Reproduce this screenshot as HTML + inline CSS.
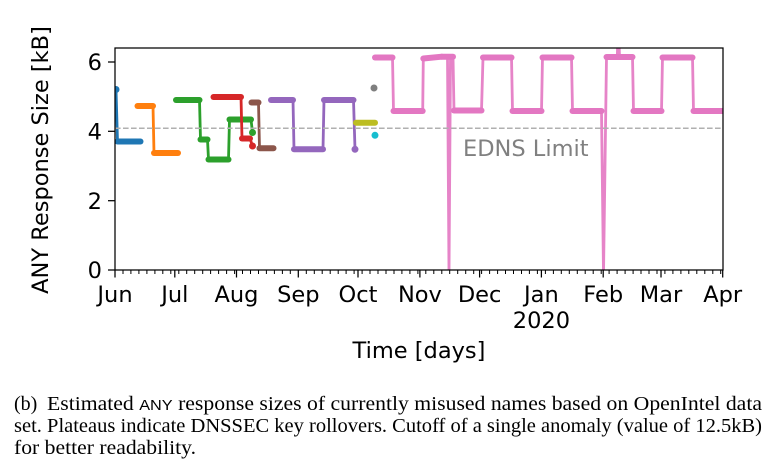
<!DOCTYPE html>
<html><head><meta charset="utf-8"><style>
html,body{margin:0;padding:0;background:#fff;}
svg{display:block;}
.t{font-family:"DejaVu Sans","Liberation Sans",sans-serif;font-size:22.5px;fill:#000;}
.cap{font-family:"Liberation Serif","DejaVu Serif",serif;font-size:20px;fill:#000;}
</style></head><body>
<svg width="781" height="462" viewBox="0 0 781 462" xmlns="http://www.w3.org/2000/svg">
<defs><clipPath id="c"><rect x="115" y="48" width="608" height="222"/></clipPath></defs>
<rect width="781" height="462" fill="#fff"/>
<g clip-path="url(#c)" fill="none" stroke-linecap="round" stroke-linejoin="round">
 <!-- blue -->
 <g stroke="#1f77b4">
  <polyline stroke-width="2.8" points="116,89.5 117.5,141.5 140.5,141.5"/>
  <line stroke-width="6" x1="117.5" y1="141.5" x2="140.5" y2="141.5"/>
 </g>
 <circle cx="116" cy="89.5" r="3.5" fill="#1f77b4"/>
 <!-- orange -->
 <g stroke="#ff7f0e">
  <polyline stroke-width="2.8" points="137.5,106 153,106 154,153 178,153"/>
  <line stroke-width="6" x1="137.5" y1="106" x2="153" y2="106"/>
  <line stroke-width="6" x1="154" y1="153" x2="178" y2="153"/>
 </g>
 <!-- green -->
 <g stroke="#2ca02c">
  <polyline stroke-width="2.8" points="176,100 199.5,100 200.5,139.5 207.5,139.5 208.5,159.5 228.5,159.5 229.5,119.5 251,119.5 252.5,132.5"/>
  <line stroke-width="6" x1="176" y1="100" x2="199.5" y2="100"/>
  <line stroke-width="6" x1="200.5" y1="139.5" x2="207.5" y2="139.5"/>
  <line stroke-width="6" x1="208.5" y1="159.5" x2="228.5" y2="159.5"/>
  <line stroke-width="6" x1="229.5" y1="119.5" x2="251" y2="119.5"/>
 </g>
 <circle cx="252.5" cy="132.5" r="3.5" fill="#2ca02c"/>
 <!-- red -->
 <g stroke="#d62728">
  <polyline stroke-width="2.8" points="213.5,97 241,97 242,138.5 250,138.5 252.5,146"/>
  <line stroke-width="6" x1="213.5" y1="97" x2="241" y2="97"/>
  <line stroke-width="6" x1="242" y1="138.5" x2="250" y2="138.5"/>
 </g>
 <circle cx="252.5" cy="146" r="3.5" fill="#d62728"/>
 <!-- purple -->
 <g stroke="#9467bd">
  <polyline stroke-width="2.8" points="271,100 293,100 294,149.3 323,149.3 324,100 353.5,100 355,149.3"/>
  <line stroke-width="6" x1="271" y1="100" x2="293" y2="100"/>
  <line stroke-width="6" x1="294" y1="149.3" x2="323" y2="149.3"/>
  <line stroke-width="6" x1="324" y1="100" x2="353.5" y2="100"/>
 </g>
 <circle cx="355" cy="149.3" r="3.5" fill="#9467bd"/>
 <!-- brown -->
 <g stroke="#8c564b">
  <polyline stroke-width="2.8" points="251.5,102.5 258.5,102.5 259.5,148.3 273.5,148.3"/>
  <line stroke-width="6" x1="251.5" y1="102.5" x2="258.5" y2="102.5"/>
  <line stroke-width="6" x1="259.5" y1="148.3" x2="273.5" y2="148.3"/>
 </g>
 <!-- pink -->
 <g stroke="#e377c2">
  <polyline stroke-width="2.8" stroke-opacity="0.9" points="375,57.5 392.5,57.5 393.5,111 422.7,111 423.3,58.5 441.7,56.7 447.5,56.7 449,274 450.5,56.7 453,56.7 454,110.5 481.5,110.5 483,57.5 511.5,57.5 512.5,111 541.5,111 542.5,57.5 571.5,57.5 572.5,111 601.5,111 603.5,274 606.5,57 617.3,57 618.3,20 619.5,57 632.5,57 633.5,111 661.5,111 662.5,57.5 692.5,57.5 693.5,111 730,111"/>
  <line stroke-width="6" x1="375" y1="57.5" x2="392.5" y2="57.5"/>
  <line stroke-width="6" x1="393.5" y1="111" x2="422.7" y2="111"/>
  <line stroke-width="6" x1="423.3" y1="58.5" x2="441.7" y2="56.7"/>
  <line stroke-width="6" x1="441.7" y1="56.7" x2="453" y2="56.7"/>
  <line stroke-width="6" x1="454" y1="110.5" x2="481.5" y2="110.5"/>
  <line stroke-width="6" x1="483" y1="57.5" x2="511.5" y2="57.5"/>
  <line stroke-width="6" x1="512.5" y1="111" x2="541.5" y2="111"/>
  <line stroke-width="6" x1="542.5" y1="57.5" x2="571.5" y2="57.5"/>
  <line stroke-width="6" x1="572.5" y1="111" x2="601.5" y2="111"/>
  <line stroke-width="6" x1="606.5" y1="57" x2="632.5" y2="57"/>
  <line stroke-width="6" x1="633.5" y1="111" x2="661.5" y2="111"/>
  <line stroke-width="6" x1="662.5" y1="57.5" x2="692.5" y2="57.5"/>
  <line stroke-width="6" x1="693.5" y1="111" x2="730" y2="111"/>
 </g>
 <!-- gray / olive / cyan -->
 <circle cx="374" cy="88" r="3.5" fill="#7f7f7f"/>
 <line stroke="#bcbd22" stroke-width="6" x1="356" y1="122.7" x2="375" y2="122.7"/>
 <circle cx="375" cy="135.3" r="3.5" fill="#17becf"/>
 <!-- EDNS limit -->
 <line x1="115" y1="128.3" x2="723" y2="128.3" stroke="#b0b0b0" stroke-width="1.5" stroke-dasharray="5.6,2.4" stroke-linecap="butt"/>
</g>
<text x="463" y="156" style="font-family:'DejaVu Sans',sans-serif;font-size:22.5px;fill:#808080">EDNS Limit</text>
<!-- axes frame -->
<rect x="115" y="48" width="608" height="222" fill="none" stroke="#000" stroke-width="1.25"/>
<!-- y ticks -->
<g stroke="#000" stroke-width="1.25">
 <line x1="108" y1="270" x2="115" y2="270"/>
 <line x1="108" y1="200.7" x2="115" y2="200.7"/>
 <line x1="108" y1="131.3" x2="115" y2="131.3"/>
 <line x1="108" y1="62" x2="115" y2="62"/>
</g>
<g class="t" text-anchor="end">
 <text x="102" y="278.2">0</text>
 <text x="102" y="208.9">2</text>
 <text x="102" y="139.5">4</text>
 <text x="102" y="70.2">6</text>
</g>
<!-- x major ticks -->
<g stroke="#000" stroke-width="1.25">
 <line x1="115" y1="270" x2="115" y2="277.5"/>
 <line x1="174.8" y1="270" x2="174.8" y2="277.5"/>
 <line x1="236.5" y1="270" x2="236.5" y2="277.5"/>
 <line x1="298.3" y1="270" x2="298.3" y2="277.5"/>
 <line x1="358" y1="270" x2="358" y2="277.5"/>
 <line x1="419.9" y1="270" x2="419.9" y2="277.5"/>
 <line x1="479.6" y1="270" x2="479.6" y2="277.5"/>
 <line x1="541.4" y1="270" x2="541.4" y2="277.5"/>
 <line x1="603.2" y1="270" x2="603.2" y2="277.5"/>
 <line x1="661" y1="270" x2="661" y2="277.5"/>
 <line x1="722.7" y1="270" x2="722.7" y2="277.5"/>
</g>
<!-- x minor ticks -->
<path stroke="#000" stroke-width="1" fill="none" d="M123,270v4M130.9,270v4M138.9,270v4M146.9,270v4M154.9,270v4M162.8,270v4M170.8,270v4M178.8,270v4M186.7,270v4M194.7,270v4M202.7,270v4M210.6,270v4M218.6,270v4M226.6,270v4M234.6,270v4M242.5,270v4M250.5,270v4M258.5,270v4M266.4,270v4M274.4,270v4M282.4,270v4M290.3,270v4M306.3,270v4M314.3,270v4M322.2,270v4M330.2,270v4M338.2,270v4M346.1,270v4M354.1,270v4M362.1,270v4M370,270v4M378,270v4M386,270v4M394,270v4M401.9,270v4M409.9,270v4M417.9,270v4M425.8,270v4M433.8,270v4M441.8,270v4M449.7,270v4M457.7,270v4M465.7,270v4M473.7,270v4M481.6,270v4M489.6,270v4M497.6,270v4M505.5,270v4M513.5,270v4M521.5,270v4M529.4,270v4M537.4,270v4M545.4,270v4M553.4,270v4M561.3,270v4M569.3,270v4M577.3,270v4M585.2,270v4M593.2,270v4M601.2,270v4M609.1,270v4M617.1,270v4M625.1,270v4M633.1,270v4M641,270v4M649,270v4M657,270v4M664.9,270v4M672.9,270v4M680.9,270v4M688.8,270v4M696.8,270v4M704.8,270v4M712.8,270v4M720.7,270v4"/>
<g class="t" text-anchor="middle">
 <text x="115" y="302">Jun</text>
 <text x="174.8" y="302">Jul</text>
 <text x="236.5" y="302">Aug</text>
 <text x="298.3" y="302">Sep</text>
 <text x="358" y="302">Oct</text>
 <text x="419.9" y="302">Nov</text>
 <text x="479.6" y="302">Dec</text>
 <text x="541.4" y="302">Jan</text>
 <text x="603.2" y="302">Feb</text>
 <text x="661" y="302">Mar</text>
 <text x="722.7" y="302">Apr</text>
 <text x="541.4" y="328">2020</text>
 <text x="419" y="358">Time [days]</text>
</g>
<text class="t" text-anchor="middle" transform="translate(48,160) rotate(-90)">ANY Response Size [kB]</text>
<!-- caption -->
<text class="cap" x="14" y="410">(b)</text>
<text class="cap" x="47" y="410" textLength="715" lengthAdjust="spacingAndGlyphs">Estimated <tspan style="font-family:'Liberation Sans',sans-serif;font-size:15px">ANY</tspan> response sizes of currently misused names based on OpenIntel data</text>
<text class="cap" x="14" y="432" textLength="748" lengthAdjust="spacingAndGlyphs">set. Plateaus indicate DNSSEC key rollovers. Cutoff of a single anomaly (value of 12.5kB)</text>
<text class="cap" x="14" y="454" textLength="182" lengthAdjust="spacingAndGlyphs">for better readability.</text>
</svg>
</body></html>
